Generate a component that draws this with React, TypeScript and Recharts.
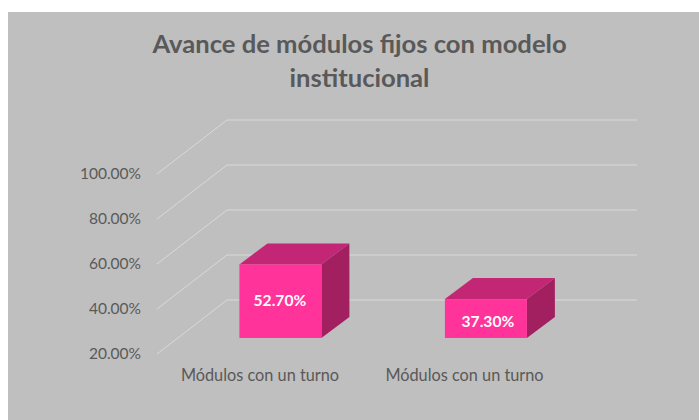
import React from "react";
import { BarChart, Bar, XAxis, YAxis, CartesianGrid, LabelList } from "recharts";

const categories = ["Módulos con un turno", "Módulos con un turno "];
const avance = [52.7, 37.3];
const yTicks = [20, 40, 60, 80, 100];
const titleLines = ["Avance de módulos fijos con modelo", "institucional"];

const rows = categories.map((name, i) => ({ name, avance: avance[i] }));
const FONT = "Lato, Carlito, sans-serif";
const DX = 28;
const DY = -21;
const fmt = (v: number) => `${v.toFixed(2)}%`;

const Box = (p: any) => {
  const { x, y, width: w, height: h } = p;
  const front = "#ff3399";
  return (
    <g>
      <path d={`M${x} ${y}L${x + DX} ${y + DY}H${x + w + DX}L${x + w} ${y}Z`} fill="#c42676" />
      <path d={`M${x + w} ${y}L${x + w + DX} ${y + DY}V${y + h + DY}L${x + w} ${y + h}Z`} fill="#a32060" />
      <rect x={x} y={y} width={w} height={h} fill={front} />
    </g>
  );
};

const GridLine = (p: any) => {
  const y = p.y1;
  return <polyline points={`157,${y + 16} 227,${y - 38} 637,${y - 38}`} fill="none" stroke="#d9d9d9" strokeWidth={1} />;
};

const YTick = (p: any) => (
  <text x={141} y={p.y + 16} dy="0.35em" textAnchor="end" fontFamily={FONT} fontSize={15.5} fill="#595959">
    {fmt(p.payload.value)}
  </text>
);

const XTick = (p: any) => (
  <text x={p.x - (p.index === 1 ? 21.5 : 20.5)} y={375} dy="0.35em" textAnchor="middle" fontFamily={FONT} fontSize={16.3} fill="#595959">
    {String(p.payload.value).trim()}
  </text>
);

const BarLabel = (p: any) => (
  <text
    x={p.x + p.width / 2 + (p.index === 1 ? 2 : -0.5)}
    y={p.y + p.height / 2 + (p.index === 1 ? 3.5 : -1)}
    dy="0.35em"
    textAnchor="middle"
    fontFamily={FONT}
    fontWeight={700}
    fontSize={15.6}
    fill="#ffffff"
  >
    {fmt(p.value)}
  </text>
);

export default function App() {
  return (
    <div style={{ position: "fixed", left: 0, top: 0, width: 699, height: 420, background: "#ffffff", overflow: "hidden" }}>
      <div style={{ position: "absolute", left: 8, top: 12, right: 0, bottom: 0, background: "#bfbfbf" }} />
      <div
        style={{
          position: "absolute",
          left: 8,
          width: 703,
          top: 26,
          textAlign: "center",
          fontFamily: FONT,
          fontWeight: 700,
          fontSize: 25.6,
          lineHeight: "34px",
          color: "#595959",
        }}
      >
        {titleLines.map((t) => (
          <div key={t}>{t}</div>
        ))}
      </div>
      <div style={{ position: "absolute", left: 0, top: 0 }}>
        <BarChart
          width={699}
          height={420}
          data={rows}
          margin={{ top: 158, bottom: 52, left: 117.75, right: 110.25 }}
          barCategoryGap="30%"
        >
          <CartesianGrid vertical={false} horizontal={GridLine} />
          <XAxis dataKey="name" axisLine={false} tickLine={false} tick={XTick} height={30} interval={0} />
          <YAxis
            width={60}
            domain={[20, 100]}
            ticks={yTicks}
            axisLine={false}
            tickLine={false}
            tick={YTick}
          />
          <Bar dataKey="avance" shape={Box} isAnimationActive={false}>
            <LabelList dataKey="avance" content={BarLabel} />
          </Bar>
        </BarChart>
      </div>
    </div>
  );
}
